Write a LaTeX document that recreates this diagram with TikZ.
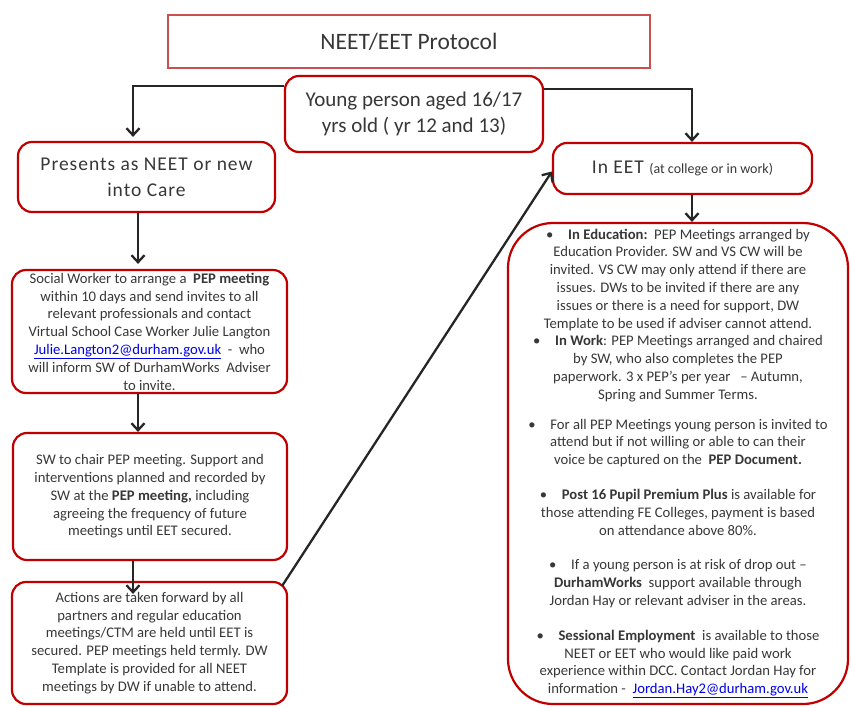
\documentclass[tikz,border=0pt]{standalone}
\usepackage{fontspec}
\setmainfont{Carlito}
\newfontfamily\widefont[LetterSpace=5]{Carlito}
\usetikzlibrary{arrows.meta,positioning}
\definecolor{boxRed}{RGB}{192,  0,  0}
\definecolor{ttlRed}{RGB}{200, 80, 80}
\definecolor{txtGrey}{RGB}{ 55, 55, 55}
\definecolor{lnkBlue}{RGB}{  0,  0,230}
\newcommand\lnk[1]{\textcolor{lnkBlue}{\underline{#1}}}
\tikzset{
  ttl/.style  ={rectangle, draw=ttlRed, line width=2pt, text=txtGrey,
                 minimum width=482pt, minimum height=53pt,
                 font=\fontsize{23.5}{28}\selectfont},
  rbox/.style ={rectangle, rounded corners=14pt, draw=boxRed, line width=2.2pt,
                 align=center, text=txtGrey, inner sep=2pt,
                 font=\fontsize{14.67}{17.8}\selectfont},
  head/.style ={font=\fontsize{19.5}{26}\widefont},
  fl/.style   ={-{Straight Barb[length=7pt,width=13pt]}, line width=2.3pt, draw=black!85},
}

\begin{document}
\begin{tikzpicture}[x=1pt, y=-1pt]
\useasboundingbox (0,0) rectangle (851,707);
\node[ttl] (title) at (409,41.5) {NEET/EET Protocol};
\node[rbox, minimum width=258pt, minimum height=76pt,
      font=\fontsize{21}{26}\selectfont] (young) at (414,114)
   {Young person aged 16/17\\yrs old ( yr 12 and 13)};
% left column
\node[rbox, head, minimum width=257pt, minimum height=70pt] (neet) at (146.5,177)
   {Presents as NEET or new\\into Care};
\node[rbox, minimum width=275pt, minimum height=123pt] (sw) at (149.5,331.5)
   {Social Worker to arrange a \ \textbf{PEP meeting}\\
    within 10 days and send invites to all\\
    relevant professionals and contact\\
    Virtual School Case Worker Julie Langton\\
    \lnk{Julie.Langton2@durham.gov.uk} \ - \ who\\
    will inform SW of DurhamWorks \ Adviser\\
    to invite.};
\node[rbox, minimum width=274pt, minimum height=127pt] (chair) at (150,496.5)
   {SW to chair PEP meeting. Support and\\
    interventions planned and recorded by\\
    SW at the \textbf{PEP meeting,} including\\
    agreeing the frequency of future\\
    meetings until EET secured.};
\node[rbox, minimum width=275pt, minimum height=122pt] (act) at (149.5,643)
   {Actions are taken forward by all\\
    partners and regular education\\
    meetings/CTM are held until EET is\\
    secured. PEP meetings held termly. DW\\
    Template is provided for all NEET\\
    meetings by DW if unable to attend.};
% right column
\node[rbox, head, minimum width=259pt, minimum height=51pt] (eet) at (682.5,168.5)
   {In EET {\fontsize{14}{16}\rmfamily (at college or in work)}};
\node[rbox, rounded corners=45pt, minimum width=340pt, minimum height=481pt] (info) at (678,463.5)
   {•\quad\textbf{In Education:}\ \ PEP Meetings arranged by\\
    Education Provider. SW and VS CW will be\\
    invited. VS CW may only attend if there are\\
    issues. DWs to be invited if there are any\\
    issues or there is a need for support, DW\\
    Template to be used if adviser cannot attend.\\
    •\quad\textbf{In Work}: PEP Meetings arranged and chaired\\
    by SW, who also completes the PEP\\
    paperwork. 3 x PEP’s per year \ \ – Autumn,\\
    Spring and Summer Terms.\\[12pt]
    •\quad For all PEP Meetings young person is invited to\\
    attend but if not willing or able to can their\\
    voice be captured on the \ \textbf{PEP Document.}\\[17pt]
    •\quad\textbf{Post 16 Pupil Premium Plus} is available for\\
    those attending FE Colleges, payment is based\\
    on attendance above 80\%.\\[17pt]
    •\quad If a young person is at risk of drop out –\\
    \textbf{DurhamWorks} \ support available through\\
    Jordan Hay or relevant adviser in the areas.\\[17pt]
    •\quad\textbf{Sessional Employment} \ is available to those\\
    NEET or EET who would like paid work\\
    experience within DCC. Contact Jordan Hay for\\
    information - \ \lnk{Jordan.Hay2@durham.gov.uk}};
% connectors
\coordinate (lturn) at (133,86);
\coordinate (rturn) at (692,89);
\coordinate (lcol) at (138,0);
\coordinate (mcol) at (133,0);
\draw[fl, shorten >=4pt] (young.west |- lturn) -- (lturn) -- (lturn |- neet.north);
\draw[fl] (young.east |- rturn) -- (rturn) -- (rturn |- eet.north);
\draw[fl] (rturn |- eet.south) -- (rturn |- info.north);
\draw[fl, shorten >=5pt] (neet.south -| lcol) -- (sw.north -| lcol);
\draw[fl] (sw.south -| lcol) -- (chair.north -| lcol);
\draw[fl, shorten >=-13pt] (chair.south -| mcol) -- (act.north -| mcol);
\draw[fl] ([shift={(-6,5)}]act.north east) -- ([shift={(0,3)}]eet.west);
\end{tikzpicture}
\end{document}
